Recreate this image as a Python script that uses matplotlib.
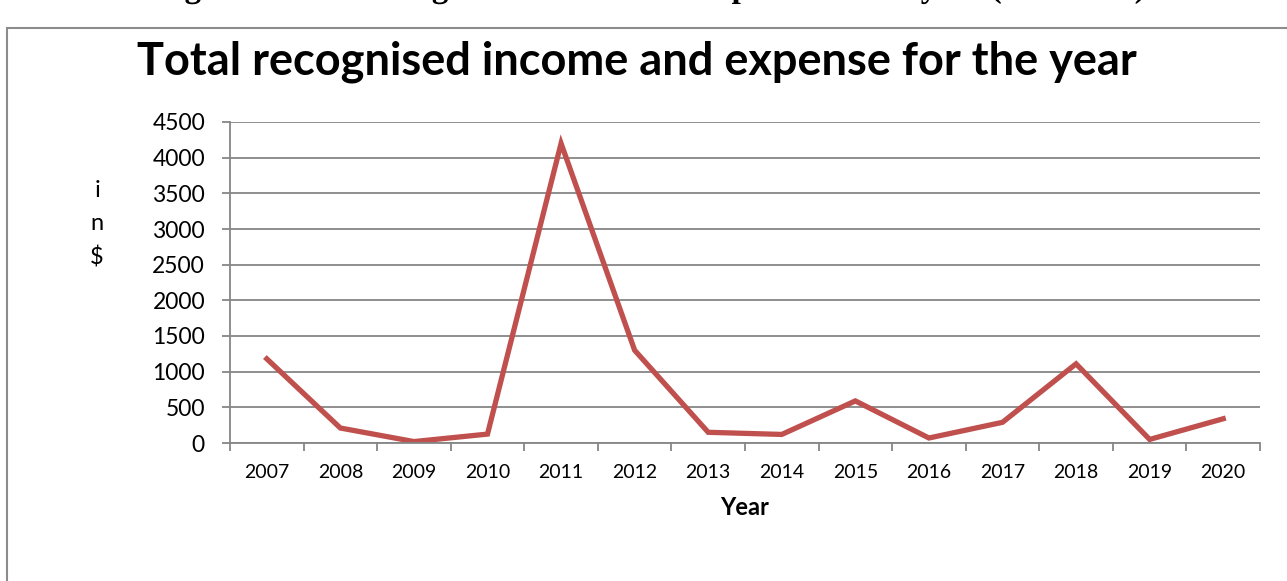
import matplotlib.pyplot as plt
import matplotlib.patches as patches
from matplotlib.textpath import TextPath
from matplotlib.font_manager import FontProperties
from matplotlib.transforms import Affine2D
import numpy as np

# values
years = ['2007', '2008', '2009', '2010', '2011', '2012', '2013',
         '2014', '2015', '2016', '2017', '2018', '2019', '2020']
income = [1180, 210, 20, 125, 4200, 1300, 150, 120, 590, 70, 290, 1110, 50, 340]
y_ticks = [0, 500, 1000, 1500, 2000, 2500, 3000, 3500, 4000, 4500]
caption = 'Figure 5: Total recognised income and expense for the year (in dollars)'

plt.rcParams['font.family'] = ['Lato', 'DejaVu Sans']
plt.rcParams['savefig.bbox'] = 'standard'

fig = plt.figure(figsize=(12.87, 5.81), dpi=100)
ax = fig.add_axes([230 / 1287, 1 - 443 / 581, 1030 / 1287, 321 / 581])

x = np.arange(len(years))
ax.plot(x, income, color='#C0504D', linewidth=3.8, solid_joinstyle='miter')

ax.set_xlim(-0.5, len(years) - 0.5)
ax.set_ylim(0, 4500)
ax.set_yticks(y_ticks)
ax.set_yticklabels([str(v) for v in y_ticks], fontsize=16.5)
ax.set_xticks(x)
ax.set_xticklabels(years, fontsize=14)
ax.set_xticks(np.arange(-0.5, len(years)), minor=True)
ax.tick_params(axis='x', which='major', length=0, pad=15)
ax.tick_params(axis='x', which='minor', length=6, color='#868686', width=1.3)
ax.tick_params(axis='y', length=6, color='#868686', width=1.3, pad=12)

ax.grid(axis='y', color='#868686', linewidth=1.3)
ax.set_axisbelow(True)
for side in ['top', 'right']:
    ax.spines[side].set_visible(False)
for side in ['left', 'bottom']:
    ax.spines[side].set_color('#868686')
    ax.spines[side].set_linewidth(1.3)

ax.set_xlabel('Year', fontsize=17, fontweight='bold', labelpad=11)
fig.text(97 / 1287, 1 - 224 / 581, 'i\nn\n$', fontsize=17, ha='center', va='center',
         linespacing=1.7)

fig.text(637 / 1287, 1 - 62 / 581, 'Total recognised income and expense for the year',
         fontsize=32.5, fontweight='bold', ha='center', va='center')

# chart border
border = patches.Rectangle((7 / 1287, -0.1), 1.2, 1 - 28 / 581 + 0.1,
                           transform=fig.transFigure, fill=False,
                           edgecolor='#8c8c8c', linewidth=1.5)
border.set_clip_box(fig.bbox)
fig.patches.append(border)

# caption above the chart, cut off by the top edge (only descenders show)
tp = TextPath((0, 0), caption, size=33,
              prop=FontProperties(family='Liberation Serif', weight='bold'))
ext = tp.get_extents()
tr = Affine2D().translate(650 - (ext.x0 + ext.x1) / 2, 581 + 3)
cap = patches.PathPatch(tp, transform=tr, facecolor='black', edgecolor='none')
cap.set_clip_box(fig.bbox)
fig.patches.append(cap)

fig.savefig('out.png', dpi=100)
